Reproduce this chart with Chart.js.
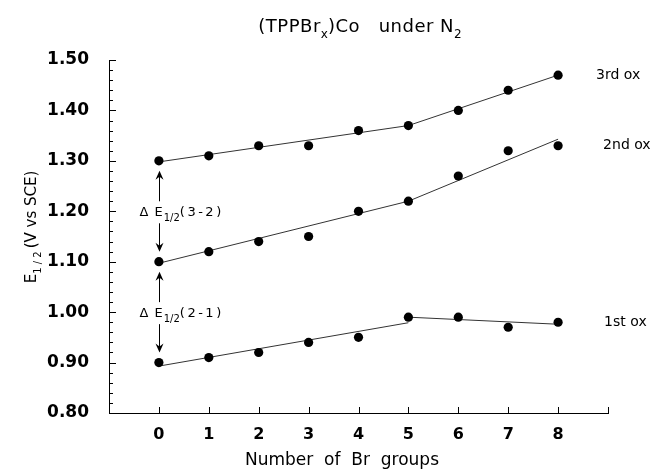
<!DOCTYPE html>
<html>
<head>
<meta charset="utf-8">
<script src="https://cdn.jsdelivr.net/npm/chart.js@4"></script>
<style>
  body { margin: 0; background: #fff; }
  canvas { display: block; }
</style>
</head>
<body>
<canvas id="chart" width="650" height="470"></canvas>
<script>
// données
const brGroups = [0, 1, 2, 3, 4, 5, 6, 7, 8];
const ox1 = [0.90, 0.91, 0.92, 0.94, 0.95, 0.99, 0.99, 0.97, 0.98];
const ox2 = [1.10, 1.12, 1.14, 1.15, 1.20, 1.22, 1.27, 1.32, 1.33];
const ox3 = [1.30, 1.31, 1.33, 1.33, 1.36, 1.37, 1.40, 1.44, 1.47];

// droites d'ajustement (extrémités)
const fit1a = [[0, 0.893], [5, 0.979]];
const fit1b = [[5, 0.990], [8, 0.976]];
const fit2 = [[0, 1.097], [5, 1.220], [8, 1.343]];
const fit3 = [[0, 1.298], [5, 1.370], [8, 1.470]];

const yTicks = [0.80, 0.90, 1.00, 1.10, 1.20, 1.30, 1.40, 1.50];
const seriesLabels = [
  { text: "3rd ox", x: 8, y: 1.47, dx: 38 },
  { text: "2nd ox", x: 8, y: 1.33, dx: 45 },
  { text: "1st ox", x: 8, y: 0.98, dx: 46 }
];

const pts = (ys) => brGroups.map((x, i) => ({ x: x, y: ys[i] }));
const seg = (arr) => arr.map(p => ({ x: p[0], y: p[1] }));

const FONT = '"DejaVu Sans", sans-serif';

function fitSet(data) {
  return {
    data: seg(data), showLine: true, pointRadius: 0, borderColor: "#333",
    borderWidth: 1, fill: false
  };
}
function pointSet(data) {
  return {
    data: pts(data), showLine: false, pointRadius: 4.6, pointHoverRadius: 4.6,
    backgroundColor: "#000", borderWidth: 0
  };
}

// texte avec indice
function subText(ctx, parts, x, y, align) {
  let total = 0;
  const widths = parts.map(p => {
    ctx.font = p.sub ? p.subFont : p.font;
    ctx.letterSpacing = p.ls || "0px";
    const w = ctx.measureText(p.t).width + (p.gapAfter || 0);
    total += w;
    return w;
  });
  let cx = align === "center" ? x - total / 2 : x;
  ctx.textAlign = "left";
  ctx.textBaseline = "alphabetic";
  parts.forEach((p, i) => {
    ctx.font = p.sub ? p.subFont : p.font;
    ctx.letterSpacing = p.ls || "0px";
    ctx.fillText(p.t, cx, y + (p.sub ? p.dy : 0));
    cx += widths[i];
  });
  ctx.letterSpacing = "0px";
}

function arrowHead(ctx, x, y, dir) {
  // dir = -1 pointe vers le haut, 1 vers le bas
  ctx.beginPath();
  ctx.moveTo(x, y);
  ctx.lineTo(x - 4, y - dir * 9);
  ctx.lineTo(x, y - dir * 6);
  ctx.lineTo(x + 4, y - dir * 9);
  ctx.closePath();
  ctx.fill();
}

const decor = {
  id: "decor",
  afterDraw(chart) {
    const ctx = chart.ctx;
    const xs = chart.scales.x, ys = chart.scales.y;
    const area = chart.chartArea;
    ctx.save();
    ctx.fillStyle = "#000";
    ctx.strokeStyle = "#000";
    ctx.lineWidth = 1;

    // graduations vers l'intérieur
    ctx.beginPath();
    for (let v = 0.80; v <= 1.5001; v += 0.02) {
      const py = Math.round(ys.getPixelForValue(v)) + 0.5;
      const major = Math.abs(v * 10 - Math.round(v * 10)) < 0.01;
      ctx.moveTo(area.left, py);
      ctx.lineTo(area.left + (major ? 7 : 4), py);
    }
    for (let v = 0; v <= 9; v++) {
      const px = Math.round(xs.getPixelForValue(v)) + 0.5;
      ctx.moveTo(px, area.bottom);
      ctx.lineTo(px, area.bottom - 6);
    }
    ctx.stroke();

    // titre
    const big = "18px " + FONT, small = "12px " + FONT;
    subText(ctx, [
      { t: "(TPPBr", font: big, ls: "0.5px" },
      { t: "x", sub: true, subFont: small, dy: 6 },
      { t: ")Co   under N", font: big, ls: "0.5px" },
      { t: "2", sub: true, subFont: small, dy: 6 }
    ], 360, 32, "center");

    // titre axe x
    ctx.font = "17px " + FONT;
    ctx.textAlign = "center";
    ctx.textBaseline = "middle";
    ctx.fillText("Number  of  Br  groups", 342, 461);

    // titre axe y
    ctx.save();
    ctx.translate(36, 227);
    ctx.rotate(-Math.PI / 2);
    const yf = "15px " + FONT, ysf = "10px " + FONT;
    subText(ctx, [
      { t: "E", font: yf },
      { t: "1 / 2", sub: true, subFont: ysf, dy: 5, gapAfter: 3 },
      { t: "(V vs SCE)", font: yf }
    ], 0, 0, "center");
    ctx.restore();

    // étiquettes des séries
    ctx.font = "14px " + FONT;
    ctx.textAlign = "left";
    ctx.textBaseline = "middle";
    seriesLabels.forEach(l => {
      ctx.fillText(l.text, xs.getPixelForValue(l.x) + l.dx, ys.getPixelForValue(l.y));
    });

    // flèches ΔE
    const ax = Math.round(xs.getPixelForValue(0)) + 0.5;
    const pairs = [
      { top: ox3[0], bot: ox2[0], label: "(3-2)" },
      { top: ox2[0], bot: ox1[0], label: "(2-1)" }
    ];
    pairs.forEach(p => {
      const yTop = ys.getPixelForValue(p.top) + 10;
      const yBot = ys.getPixelForValue(p.bot) - 10;
      const yMid = (yTop + yBot) / 2 + 1;
      ctx.beginPath();
      ctx.moveTo(ax, yTop + 4);
      ctx.lineTo(ax, yMid - 11);
      ctx.moveTo(ax, yMid + 11);
      ctx.lineTo(ax, yBot - 4);
      ctx.stroke();
      arrowHead(ctx, ax, yTop, -1);
      arrowHead(ctx, ax, yBot, 1);
      const lf = "13px " + FONT, lsf = "10px " + FONT;
      subText(ctx, [
        { t: "\u0394 E", font: lf, ls: "1px" },
        { t: "1/2", sub: true, subFont: lsf, dy: 5 },
        { t: p.label, font: lf, ls: "2.5px" }
      ], ax - 20, yMid + 4, "left");
    });

    ctx.restore();
  }
};

new Chart(document.getElementById("chart"), {
  type: "scatter",
  data: {
    datasets: [
      pointSet(ox3), pointSet(ox2), pointSet(ox1),
      fitSet(fit3), fitSet(fit2), fitSet(fit1a), fitSet(fit1b)
    ]
  },
  options: {
    responsive: false,
    animation: false,
    events: [],
    layout: { padding: { left: 0, top: 60, right: 42, bottom: 0 } },
    plugins: { legend: { display: false }, tooltip: { enabled: false } },
    scales: {
      x: {
        type: "linear", min: -1, max: 9,
        grid: { display: false },
        border: { display: true, color: "#000", width: 1 },
        ticks: {
          stepSize: 1, padding: 4, color: "#000",
          font: { family: FONT, size: 16, weight: "bold" },
          callback: (v) => (v >= 0 && v <= 8 ? String(v) : "")
        },
        afterFit: (s) => { s.height = 57; }
      },
      y: {
        type: "linear", min: 0.8, max: 1.5,
        grid: { display: false },
        border: { display: true, color: "#000", width: 1 },
        afterBuildTicks: (s) => { s.ticks = yTicks.map(v => ({ value: v })); },
        ticks: {
          padding: 12, color: "#000",
          font: { family: FONT, size: 17, weight: "bold" },
          callback: (v) => Number(v).toFixed(2)
        },
        afterFit: (s) => { s.width = 109; }
      }
    }
  },
  plugins: [decor]
});
</script>
</body>
</html>
